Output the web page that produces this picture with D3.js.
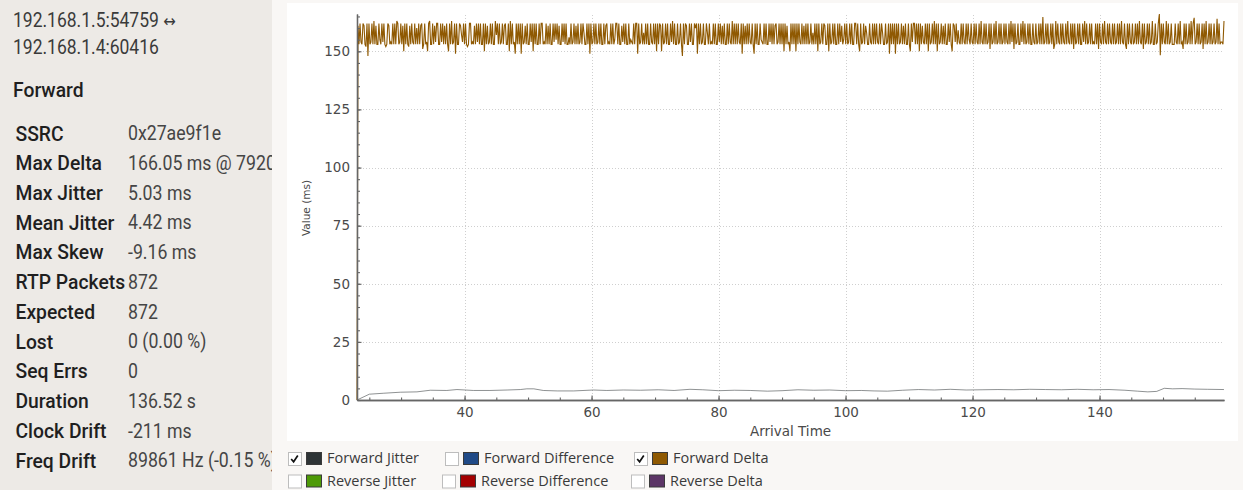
<!DOCTYPE html>
<html>
<head>
<meta charset="utf-8">
<script src="https://cdn.jsdelivr.net/npm/d3@7"></script>
<style>
  html, body { margin: 0; padding: 0; background: #f9f7f5; }
  svg { display: block; }
</style>
</head>
<body>
<svg id="chart" width="1243" height="490"></svg>
<script>
// ---- Stream summary ----
const streamEnds = ["192.168.1.5:54759", "192.168.1.4:60416"];
const streamArrow = "\u2194";
const directionTitle = "Forward";
const statLabels = ["SSRC", "Max Delta", "Max Jitter", "Mean Jitter", "Max Skew", "RTP Packets",
  "Expected", "Lost", "Seq Errs", "Duration", "Clock Drift", "Freq Drift"];
const statValues = ["0x27ae9f1e", "166.05 ms @ 7920", "5.03 ms", "4.42 ms", "-9.16 ms", "872",
  "872", "0 (0.00 %)", "0", "136.52 s", "-211 ms", "89861 Hz (-0.15 %)"];

// ---- Forward delta per packet (ms); first packet has no predecessor ----
const firstArrival = 23.06; // seconds
const forwardDelta = [0,
161,153,162,154,153,162,161,153,152,162,148,162,153,154,162,153,163,153,161,153,
153,162,155,153,162,154,162,153,152,153,162,161,153,154,153,162,153,162,153,163,
162,153,154,162,153,161,150,162,153,162,153,152,161,153,162,154,153,162,153,160,
153,162,153,161,162,151,153,162,153,154,150,162,163,153,153,162,153,161,154,162,
162,153,153,162,154,162,153,161,153,162,153,150,162,153,163,153,154,162,149,162,
153,153,162,161,157,154,162,153,162,153,152,153,162,162,153,154,153,161,153,162,
154,162,153,162,153,153,162,150,162,153,161,153,154,162,153,162,153,153,163,157,
162,153,162,153,154,162,153,161,162,153,153,162,150,163,153,162,153,154,149,162,
153,162,153,162,149,162,153,154,161,153,162,153,153,162,154,162,150,162,153,162,
153,153,162,153,162,162,153,154,153,162,153,161,153,162,153,153,162,154,162,155,
162,153,161,153,153,162,154,162,153,162,153,153,156,153,162,153,154,162,153,161,
153,162,153,154,162,153,162,158,153,153,162,153,162,149,162,153,154,162,153,162,
153,154,162,153,162,153,153,162,153,161,162,153,154,153,162,153,162,153,155,162,
162,153,162,153,153,161,154,162,153,162,153,153,162,153,155,154,153,162,153,162,
162,149,162,153,154,162,153,158,153,162,153,162,153,153,162,154,153,162,153,162,
150,162,153,162,161,150,162,153,154,162,153,162,153,153,162,154,163,153,162,153,
153,162,153,154,162,153,148,162,153,162,161,153,153,162,154,162,153,153,162,160,
162,149,162,153,162,153,154,162,153,153,162,158,153,162,153,154,153,162,153,162,
153,153,162,154,162,153,161,153,162,153,153,162,153,162,154,153,163,153,162,153,
162,153,162,154,153,162,149,162,153,161,153,162,153,162,154,153,162,153,149,162,
153,162,153,153,162,155,154,153,162,153,162,153,153,162,154,162,153,162,153,161,
162,153,154,162,153,162,153,162,150,162,153,161,153,154,150,162,153,162,153,162,
150,162,153,162,154,153,162,153,161,153,162,153,162,153,154,162,153,158,153,162,
153,162,150,162,153,154,162,153,162,161,153,153,162,150,162,153,154,162,153,162,
153,153,162,153,162,154,161,153,155,162,153,162,153,154,162,153,162,153,153,162,
162,153,162,153,150,162,153,154,162,153,161,158,153,153,162,154,153,162,153,162,
153,162,154,153,162,153,162,158,153,153,162,153,154,162,149,162,153,162,153,162,
149,162,153,162,153,154,162,153,161,153,162,153,153,162,153,150,162,154,162,162,
153,162,153,162,150,162,153,161,154,153,162,153,162,150,162,153,154,162,153,163,
153,162,150,162,153,154,162,153,161,153,162,153,153,162,154,162,153,150,162,161,
154,162,153,159,154,153,162,153,162,154,153,162,153,162,155,153,162,154,153,162,
153,162,154,153,162,153,163,154,153,162,153,162,153,154,162,151,162,153,154,162,
153,163,153,154,162,153,162,153,154,162,153,162,154,153,162,153,163,154,162,151,
162,153,154,162,153,153,162,154,163,153,162,153,154,162,153,162,153,153,162,154,
153,162,153,154,162,153,162,153,164.7,153,154,162,153,162,153,154,162,153,162,151,
153,163,153,162,154,153,162,153,162,154,153,162,153,163,154,153,162,153,162,151,
162,153,154,162,153,162,153,153,162,154,163,153,162,153,154,162,153,162,153,154,
153,162,153,162,151,162,154,153,162,153,163,154,153,162,153,162,154,153,162,153,
162,153,154,162,153,162,153,163,154,153,162,153,151,162,153,162,154,153,162,153,
154,162,153,162,153,163,154,153,162,151,162,153,154,162,153,162,153,154,163,153,
153,162,153,154,162,166.05,148.3,162,153,162,154,153,163,153,162,153,154,162,153,153,
153,162,154,153,162,153,163,153,154,151,162,153,162,153,154,162,153,163,153,162,
164.4,153,154,162,153,162,153,154,162,151,162,153,163,153,154,162,153,162,153,154,
162,153,154,164,153,162,153,154,154,153,163];

// ---- Forward jitter (ms) over arrival time (s) ----
const jitterTimes = [23.06,25.0,27.2,29.9,32.5,34.6,37.2,38.8,41.4,44.0,46.7,48.8,49.8,50.9,52.4,
  54.6,57.2,60.3,62.4,65.0,67.7,70.5,73.0,75.5,77.5,80.0,82.5,85.0,87.7,90.0,92.5,95.0,97.5,100.0,
  102.5,104.5,106.6,109.0,111.5,114.0,116.5,119.0,121.5,124.0,126.5,129.0,131.5,134.0,136.5,139.0,
  141.5,144.0,146.0,147.6,149.0,150.2,151.5,153.0,155.0,157.0,159.6];
const jitterValues = [0,2.5,2.9,3.35,3.5,4.2,4.1,4.5,4.1,4.1,4.3,4.5,4.8,4.8,4.1,
  3.9,3.9,4.3,4.1,4.3,4.2,4.4,4.1,4.6,4.4,4.0,4.2,4.1,3.8,4.0,4.4,4.2,4.3,4.0,
  4.1,3.9,3.8,4.2,4.5,4.3,4.6,4.3,4.4,4.5,4.4,4.6,4.5,4.4,4.6,4.4,
  4.5,4.2,3.8,3.5,3.7,5.03,4.8,4.9,4.7,4.6,4.5];

// ---- Axes ----
const xTicks = [40, 60, 80, 100, 120, 140];
const yTicks = [0, 25, 50, 75, 100, 125, 150];
const xMinorStep = 5, yMinorStep = 5;

// ---- Series legend ----
const legendNames = ["Forward Jitter", "Forward Difference", "Forward Delta",
  "Reverse Jitter", "Reverse Difference", "Reverse Delta"];
const legendColors = ["#2e3436", "#204a87", "#8f5902", "#4e9a06", "#a40000", "#5c3566"];
const legendChecked = [true, false, true, false, false, false];

// ================= drawing =================
const svg = d3.select("#chart");

// side panel
const panelW = 272;
svg.append("rect").attr("x", 0).attr("y", 0).attr("width", 1243).attr("height", 490).attr("fill", "#f9f7f5");
svg.append("defs").append("clipPath").attr("id", "panelClip")
  .append("rect").attr("x", 0).attr("y", 0).attr("width", panelW).attr("height", 490);
const panel = svg.append("g").attr("clip-path", "url(#panelClip)");
panel.append("rect").attr("width", panelW).attr("height", 490).attr("fill", "#edeae6");

function panelText(str, x, y, size, weight, fill, sx) {
  return panel.append("text")
    .attr("transform", `translate(${x},${y}) scale(${sx},1)`)
    .attr("font-family", "Roboto, 'Noto Sans', sans-serif")
    .attr("font-size", size).attr("font-weight", weight)
    .attr("fill", fill).text(str);
}
streamEnds.forEach((s, i) => {
  const t = panelText(s, 13, 27 + i * 27, 20, 400, "#3a3a3a", 0.875);
  if (i === 0) {
    t.append("tspan").attr("font-family", "'DejaVu Sans', sans-serif").attr("font-size", 17)
      .attr("dx", 5).text(streamArrow);
  }
});
panelText(directionTitle, 13, 96.5, 21, 500, "#1f1f1f", 0.92);
const rowStep = 29.73;
statLabels.forEach((s, i) => panelText(s, 15.5, 140.5 + i * rowStep, 21, 500, "#1f1f1f", 0.92));
statValues.forEach((s, i) => panelText(s, 128, 140.2 + i * rowStep, 20, 400, "#454545", 0.885));

// plot box
svg.append("rect").attr("x", 287).attr("y", 3).attr("width", 951).attr("height", 438).attr("fill", "#ffffff");

const arrival = Array.from(d3.cumsum(forwardDelta), s => firstArrival + s / 1000);
const x = d3.scaleLinear().domain([firstArrival, d3.max(arrival)]).range([357, 1224]);
const y = d3.scaleLinear().domain([0, d3.max(forwardDelta)]).range([400, 14]);

// grid
const grid = svg.append("g").attr("stroke", "#cfcfcf").attr("stroke-width", 1)
  .attr("stroke-dasharray", "1,2").attr("shape-rendering", "crispEdges");
grid.selectAll("line.v").data(xTicks).join("line").attr("class", "v")
  .attr("x1", d => Math.round(x(d)) + 0.5).attr("x2", d => Math.round(x(d)) + 0.5)
  .attr("y1", y(0)).attr("y2", y.range()[1]);
grid.selectAll("line.h").data(yTicks.filter(d => d > 0)).join("line").attr("class", "h")
  .attr("y1", d => Math.round(y(d)) + 0.5).attr("y2", d => Math.round(y(d)) + 0.5)
  .attr("x1", x.range()[0]).attr("x2", x.range()[1]);

// series
const plot = svg.append("g");
plot.append("path")
  .datum(forwardDelta.map((v, i) => [arrival[i], v]))
  .attr("fill", "none").attr("stroke", legendColors[2]).attr("stroke-width", 1.1)
  .attr("stroke-linejoin", "miter")
  .attr("d", d3.line().x(d => x(d[0])).y(d => y(d[1])));
plot.append("path")
  .datum(jitterValues.map((v, i) => [jitterTimes[i], v]))
  .attr("fill", "none").attr("stroke", legendColors[0]).attr("stroke-width", 0.9)
  .attr("stroke-opacity", 0.6)
  .attr("d", d3.line().x(d => x(d[0])).y(d => y(d[1])));

// axes
const axisColor = "#666";
const tickFont = "'DejaVu Sans', Verdana, sans-serif";
function styleAxis(g) {
  g.select(".domain").attr("stroke", axisColor).attr("stroke-width", 1.3);
  g.selectAll(".tick line").attr("stroke", axisColor).attr("stroke-width", 1.1);
  g.selectAll(".tick text").attr("fill", "#4a4a4a").attr("font-family", tickFont).attr("font-size", 13.5);
}
const xMinor = d3.range(Math.ceil(firstArrival / xMinorStep) * xMinorStep, x.domain()[1], xMinorStep);
const yMinor = d3.range(yMinorStep, y.domain()[1], yMinorStep);

svg.append("g").attr("transform", `translate(0,${y(0)})`)
  .call(d3.axisBottom(x).tickValues(xMinor).tickFormat("").tickSizeInner(-2.5).tickSizeOuter(0))
  .call(styleAxis);
svg.append("g").attr("transform", `translate(${x.range()[0]},0)`)
  .call(d3.axisLeft(y).tickValues(yMinor).tickFormat("").tickSizeInner(-3).tickSizeOuter(0))
  .call(styleAxis);
svg.append("g").attr("transform", `translate(0,${y(0)})`)
  .call(d3.axisBottom(x).tickValues(xTicks).tickSizeInner(-4.5).tickSizeOuter(0).tickPadding(7.5))
  .call(styleAxis);
svg.append("g").attr("transform", `translate(${x.range()[0]},0)`)
  .call(d3.axisLeft(y).tickValues(yTicks).tickSizeInner(-4.5).tickSizeOuter(0).tickPadding(7))
  .call(styleAxis);

svg.append("text").attr("x", (x.range()[0] + x.range()[1]) / 2).attr("y", 436)
  .attr("text-anchor", "middle").attr("font-family", tickFont).attr("font-size", 13.5)
  .attr("fill", "#4a4a4a").text("Arrival Time");
svg.append("text").attr("transform", `translate(309.5,${(y(0) + y.range()[1]) / 2 + 1}) rotate(-90)`)
  .attr("text-anchor", "middle").attr("font-family", tickFont).attr("font-size", 10.5)
  .attr("fill", "#4a4a4a").text("Value (ms)");

// legend
const legendRows = [{ y: 452, xs: [288, 445, 634] }, { y: 474.5, xs: [288, 442, 631] }];
legendNames.forEach((name, i) => {
  const row = legendRows[Math.floor(i / 3)];
  const lx = row.xs[i % 3], ly = row.y;
  const g = svg.append("g").attr("transform", `translate(${lx},${ly})`);
  g.append("rect").attr("x", 0.5).attr("y", 0.5).attr("width", 13).attr("height", 13)
    .attr("fill", "#fff").attr("stroke", "#bdbdbd");
  if (legendChecked[i]) {
    g.append("path").attr("d", "M3.2,7 L5.6,9.8 L9.8,3.6").attr("fill", "none")
      .attr("stroke", "#111").attr("stroke-width", 1.7);
  }
  g.append("rect").attr("x", 18.5).attr("y", 0.5).attr("width", 15).attr("height", 12)
    .attr("fill", legendColors[i]).attr("stroke", "#3a3a3a");
  g.append("text").attr("x", 39).attr("y", 11.2)
    .attr("font-family", "'Open Sans', 'DejaVu Sans', sans-serif").attr("font-size", 14.5)
    .attr("fill", "#3a3a3a").text(name);
});
</script>
</body>
</html>
